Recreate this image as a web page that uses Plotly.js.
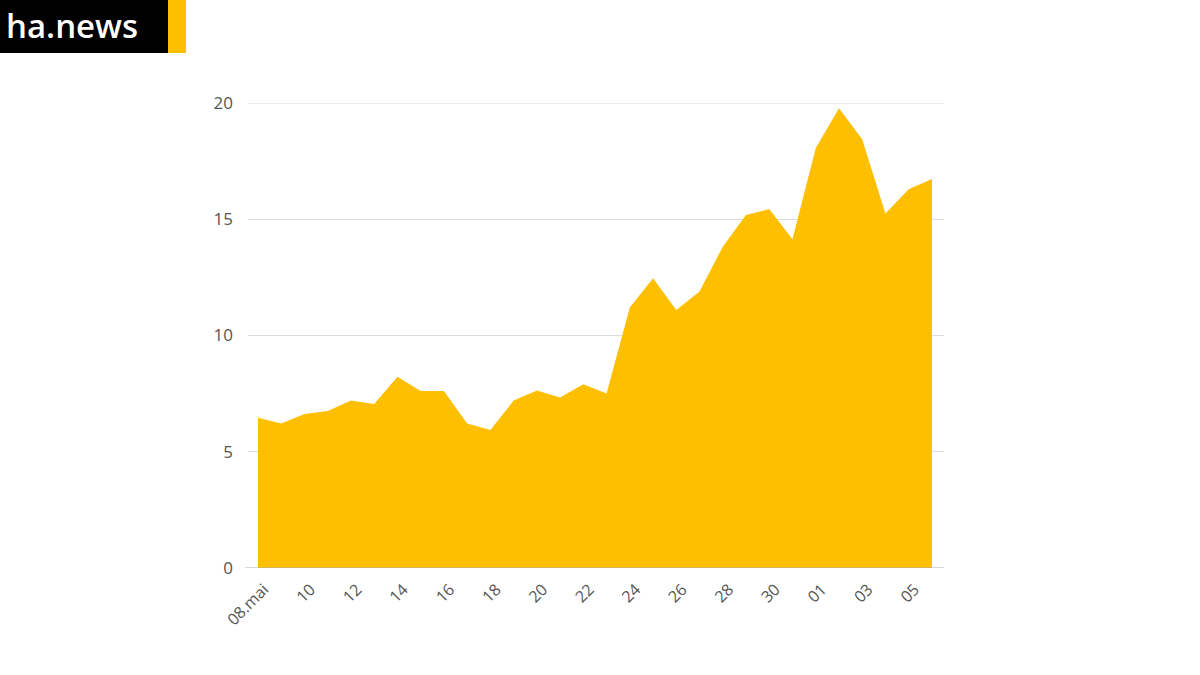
<!DOCTYPE html>
<html>
<head>
<meta charset="utf-8">
<script src="https://cdn.plot.ly/plotly-3.0.1.min.js"></script>
<style>html,body{margin:0;padding:0;background:#fff;}#chart{width:1200px;height:675px;}</style>
</head>
<body>
<div id="chart"></div>
<script>
const dates = [
  "2024-05-08","2024-05-09","2024-05-10","2024-05-11","2024-05-12","2024-05-13","2024-05-14","2024-05-15",
  "2024-05-16","2024-05-17","2024-05-18","2024-05-19","2024-05-20","2024-05-21","2024-05-22","2024-05-23",
  "2024-05-24","2024-05-25","2024-05-26","2024-05-27","2024-05-28","2024-05-29","2024-05-30","2024-05-31",
  "2024-06-01","2024-06-02","2024-06-03","2024-06-04","2024-06-05","2024-06-06"
];
const values = [
  6.46, 6.22, 6.62, 6.75, 7.2, 7.05, 8.23, 7.61,
  7.61, 6.22, 5.94, 7.2, 7.63, 7.33, 7.9, 7.51,
  11.2, 12.46, 11.1, 11.89, 13.82, 15.18, 15.44, 14.14,
  18.05, 19.77, 18.44, 15.25, 16.29, 16.73
];
const tickDates = ["2024-05-08","2024-05-10","2024-05-12","2024-05-14","2024-05-16","2024-05-18","2024-05-20",
  "2024-05-22","2024-05-24","2024-05-26","2024-05-28","2024-05-30","2024-06-01","2024-06-03","2024-06-05"];
const tickLabels = ["08.mai","10","12","14","16","18","20","22","24","26","28","30","01","03","05"];
const yTicks = [0,5,10,15,20];

const trace = {
  x: dates, y: values, type: "scatter", mode: "lines",
  fill: "tozeroy", fillcolor: "#FDBF00",
  line: {width: 0, color: "#FDBF00"},
  hoverinfo: "skip"
};

const layout = {
  width: 1200, height: 675,
  margin: {l: 248, r: 256, t: 103, b: 107, pad: 0},
  paper_bgcolor: "#ffffff", plot_bgcolor: "#ffffff",
  showlegend: false,
  font: {family: "Open Sans, sans-serif", color: "#555555", size: 17},
  xaxis: {
    type: "date",
    range: ["2024-05-07 13:40", "2024-06-06 12:30"],
    tickvals: tickDates, ticktext: tickLabels,
    tickangle: -45, showgrid: false, zeroline: false,
    ticks: "", showline: false,
    ticklabelshift: 6, ticklabelstandoff: 8,
    tickfont: {size: 16, color: "#555555"}
  },
  yaxis: {
    range: [0, 20], tickvals: yTicks,
    showgrid: true, gridcolor: "#dcdcdc", gridwidth: 1,
    zeroline: false, showline: false, ticks: "",
    ticklabelstandoff: 14,
    tickfont: {size: 17, color: "#555555"}
  },
  shapes: [
    {type: "line", xref: "paper", yref: "y", x0: 0, x1: 1, y0: 20, y1: 20,
     line: {color: "#d6d6d6", width: 1.2}},
    {type: "line", xref: "paper", yref: "y", x0: -0.004, x1: 1, y0: 0, y1: 0,
     line: {color: "#b0b0b0", width: 1.2}},
    {type: "rect", xref: "paper", yref: "paper", x0: -248/696, x1: (168-248)/696,
     y0: 1 + (103-53)/465, y1: 1 + 103/465, fillcolor: "#000000", line: {width: 0}},
    {type: "rect", xref: "paper", yref: "paper", x0: (168-248)/696, x1: (186-248)/696,
     y0: 1 + (103-53)/465, y1: 1 + 103/465, fillcolor: "#FDBF00", line: {width: 0}}
  ],
  annotations: [
    {xref: "paper", yref: "paper", x: (140-248)/696, y: 1 + (103-25)/465,
     xanchor: "right", yanchor: "middle", showarrow: false,
     text: "ha.news", font: {family: "Open Sans, sans-serif", size: 33, weight: 600, color: "#ffffff"}}
  ]
};

Plotly.newPlot("chart", [trace], layout, {displayModeBar: false, staticPlot: true});
</script>
</body>
</html>
